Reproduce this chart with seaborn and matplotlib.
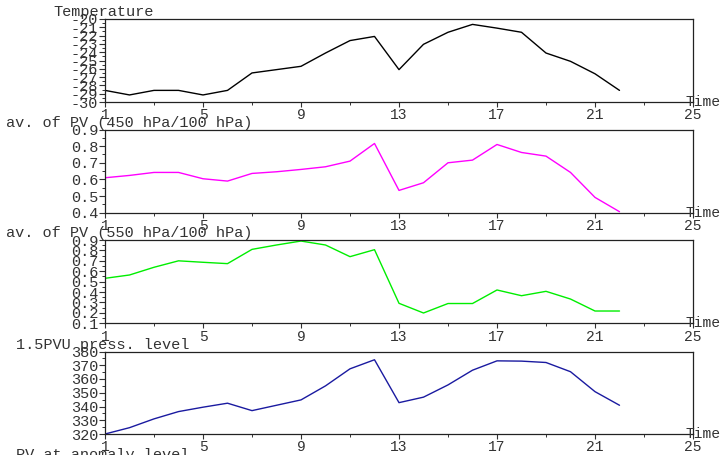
import matplotlib
matplotlib.use('Agg')
import matplotlib.pyplot as plt
import seaborn as sns
import pandas as pd
import numpy as np

# ---- data ----
time = list(range(1, 23))
temperature = [-28.6, -29.15, -28.6, -28.6, -29.15, -28.6, -26.5, -26.1, -25.7, -24.1, -22.6,
               -22.1, -26.1, -23.05, -21.6, -20.65, -21.1, -21.6, -24.1, -25.1, -26.6, -28.6]
pv450 = [0.61, 0.624, 0.642, 0.642, 0.604, 0.59, 0.636, 0.646, 0.66, 0.676, 0.71,
         0.816, 0.534, 0.58, 0.70, 0.716, 0.81, 0.762, 0.74, 0.642, 0.492, 0.406]
pv550 = [0.532, 0.564, 0.638, 0.70, 0.686, 0.673, 0.81, 0.852, 0.89, 0.852, 0.74,
         0.807, 0.292, 0.199, 0.29, 0.29, 0.42, 0.365, 0.407, 0.333, 0.218, 0.218]
pressure = [320, 324.6, 331, 336.3, 339.5, 342.4, 337, 340.9, 344.8, 355, 367.4,
            374, 342.8, 346.8, 355.7, 366.4, 373.2, 373, 372, 365.3, 350.8, 340.9]

titles = ["Temperature", "av. of PV (450 hPa/100 hPa)", "av. of PV (550 hPa/100 hPa)",
          "1.5PVU press. level"]
next_title = "PV at anomaly level"
x_ticks = [1, 5, 9, 13, 17, 21, 25]
x_minor = [3, 7, 11, 15, 19, 23]
y_ticks = [
    [-30, -29, -28, -27, -26, -25, -24, -23, -22, -21, -20],
    [0.4, 0.5, 0.6, 0.7, 0.8, 0.9],
    [0.1, 0.2, 0.3, 0.4, 0.5, 0.6, 0.7, 0.8, 0.9],
    [320, 330, 340, 350, 360, 370, 380],
]
y_fmt = ["{:.0f}", "{:.1f}", "{:.1f}", "{:.0f}"]
series = [temperature, pv450, pv550, pressure]
colors = ["#000000", "#ff00ff", "#00ee00", "#1a1aa0"]

# ---- style ----
sns.set_style("ticks")
plt.rcParams['font.family'] = ['Liberation Mono', 'DejaVu Sans']
plt.rcParams['axes.unicode_minus'] = False
txt = "#333333"

W, H = 725, 455
fig = plt.figure(figsize=(W / 100, H / 100), dpi=100)

left_px, right_px = 105, 693
tops = [19, 129.5, 240, 351.5]
bottoms = [102, 212.7, 323.3, 434]
title_x = [53, 6, 6, 16]

for i in range(4):
    ax = fig.add_axes([left_px / W, 1 - bottoms[i] / H, (right_px - left_px) / W,
                       (bottoms[i] - tops[i]) / H])
    df = pd.DataFrame({"time": time, "value": series[i]})
    sns.lineplot(data=df, x="time", y="value", ax=ax, color=colors[i], linewidth=1.0)
    ax.set_xlim(1, 25)
    yt = y_ticks[i]
    ax.set_ylim(yt[0], yt[-1])
    ax.set_xticks(x_ticks)
    ax.set_xticks(x_minor, minor=True)
    ax.set_xticklabels([str(v) for v in x_ticks])
    ax.set_yticks(yt)
    ax.set_yticklabels([y_fmt[i].format(v) for v in yt])
    step = yt[1] - yt[0]
    ax.set_yticks([v + step / 2 for v in yt[:-1]], minor=True)
    ax.set_xlabel("")
    ax.set_ylabel("")
    for s in ax.spines.values():
        s.set_color("#222222")
        s.set_linewidth(0.9)
    ax.tick_params(axis='y', which='major', length=4, width=0.8, pad=1,
                   labelsize=11, colors=txt)
    ax.tick_params(axis='y', which='minor', length=2.5, width=0.7, colors=txt)
    ax.tick_params(axis='x', which='major', length=3.5, width=0.8, pad=1,
                   labelsize=10.5, colors=txt)
    ax.tick_params(axis='x', which='minor', length=2, width=0.7, colors=txt)
    ax.text(0.988, 0.0, "Time", transform=ax.transAxes, ha='left', va='center',
            fontsize=10.5, color=txt)
    fig.text(title_x[i] / W, 1 - (tops[i] - 3) / H, titles[i], ha='left',
             va='baseline', fontsize=11, color=txt)

fig.text(16 / W, 1 - 459 / H, next_title, ha='left', va='baseline', fontsize=11, color=txt)

fig.savefig("out.png", dpi=100)
